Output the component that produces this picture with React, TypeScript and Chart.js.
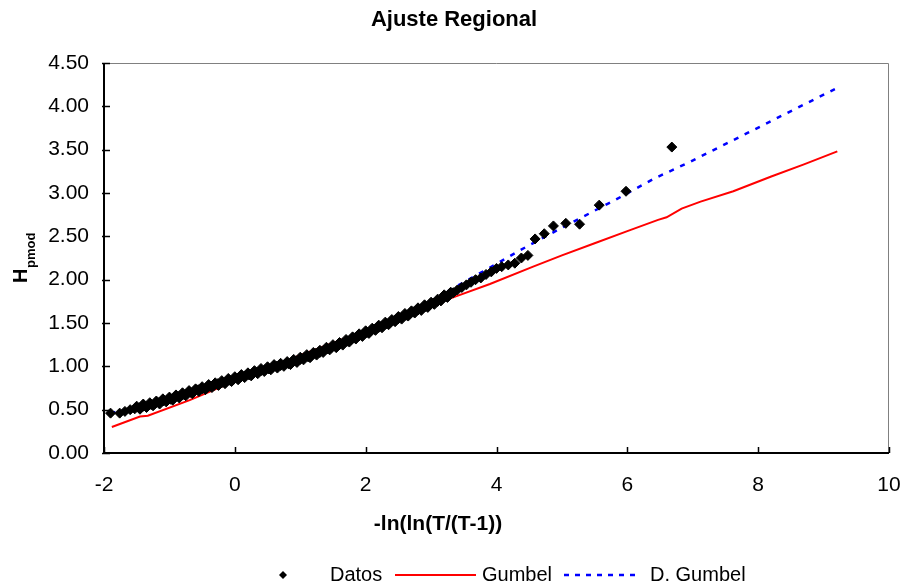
import React, { useEffect, useRef } from "react";
import { Chart, registerables } from "chart.js";

Chart.register(...registerables);

const FONT = "'Liberation Sans', Arial, Helvetica, sans-serif";

const chartTitle = "Ajuste Regional";
const xAxisTitle = "-ln(ln(T/(T-1))";
const yAxisTitleMain = "H";
const yAxisTitleSub = "pmod";
const seriesNames = ["Datos", "Gumbel", "D. Gumbel"];

const xDatos = [
  -1.9, -1.76, -1.68, -1.6, -1.53, -1.46, -1.4, -1.34, -1.28, -1.22, -1.16, -1.1, -1.04, -0.98, -0.92,
  -0.86, -0.8, -0.74, -0.68, -0.62, -0.56, -0.5, -0.44, -0.38, -0.32, -0.26, -0.2, -0.14, -0.08, -0.02,
  0.04, 0.1, 0.16, 0.22, 0.28, 0.34, 0.4, 0.46, 0.52, 0.58, 0.64, 0.7, 0.76, 0.82, 0.88, 0.94,
  1.0, 1.06, 1.12, 1.18, 1.24, 1.3, 1.36, 1.42, 1.48, 1.54, 1.6, 1.66, 1.72, 1.78, 1.84, 1.9, 1.96,
  2.02, 2.08, 2.14, 2.2, 2.26, 2.32, 2.38, 2.44, 2.5, 2.56, 2.62, 2.68, 2.74, 2.8, 2.86, 2.92, 2.98,
  3.04, 3.1, 3.16, 3.22, 3.28, 3.34, 3.4, 3.47, 3.54, 3.61, 3.68, 3.76, 3.84, 3.92, 4.0, 4.08, 4.18,
  4.28, 4.38, 4.48, 4.59, 4.73, 4.87, 5.06, 5.27, 5.57, 5.98, 6.68,
  -1.5, -1.45, -1.4, -1.35, -1.3, -1.25, -1.2, -1.15, -1.1, -1.05, -1.0, -0.95, -0.9, -0.85, -0.8,
  -0.75, -0.7, -0.65, -0.6, -0.55, -0.5, -0.45, -0.4, -0.35, -0.3, -0.25, -0.2, -0.15, -0.1, -0.05,
  0.0, 0.05, 0.1, 0.15, 0.2, 0.25, 0.3, 0.35, 0.4, 0.45, 0.5, 0.55, 0.6, 0.65, 0.7, 0.75, 0.8, 0.85,
  0.9, 0.95, 1.0, 1.05, 1.1, 1.15, 1.2, 1.25, 1.3, 1.35, 1.4, 1.45, 1.5, 1.55, 1.6, 1.65, 1.7, 1.75,
  1.8, 1.85, 1.9, 1.95, 2.0, 2.05, 2.1, 2.15, 2.2, 2.25, 2.3, 2.35, 2.4, 2.45, 2.5, 2.55, 2.6, 2.65,
  2.7, 2.75, 2.8, 2.85, 2.9, 2.95, 3.0, 3.05, 3.1, 3.15, 3.2, 3.25, 3.3,
];
const yDatos = [
  0.46, 0.46, 0.48, 0.5, 0.51, 0.52, 0.54, 0.54, 0.56, 0.57, 0.58, 0.6, 0.61, 0.62, 0.64,
  0.65, 0.67, 0.68, 0.7, 0.71, 0.73, 0.74, 0.75, 0.77, 0.78, 0.8, 0.81, 0.82, 0.84, 0.85,
  0.86, 0.88, 0.89, 0.9, 0.92, 0.93, 0.95, 0.96, 0.97, 0.99, 1.0, 1.01, 1.02, 1.03, 1.05, 1.06,
  1.08, 1.1, 1.11, 1.13, 1.15, 1.16, 1.18, 1.2, 1.22, 1.23, 1.25, 1.27, 1.29, 1.31, 1.33, 1.35, 1.37,
  1.39, 1.41, 1.43, 1.45, 1.47, 1.49, 1.51, 1.53, 1.55, 1.57, 1.59, 1.61, 1.63, 1.65, 1.67, 1.69, 1.71,
  1.73, 1.75, 1.78, 1.81, 1.83, 1.85, 1.88, 1.91, 1.94, 1.97, 2.0, 2.02, 2.06, 2.09, 2.13, 2.15, 2.17,
  2.19, 2.25, 2.28, 2.47, 2.53, 2.62, 2.65, 2.64, 2.86, 3.02, 3.53,
  0.54, 0.505, 0.565, 0.525, 0.58, 0.545, 0.6, 0.565, 0.625, 0.59, 0.645, 0.61, 0.67, 0.635, 0.695,
  0.66, 0.72, 0.685, 0.74, 0.71, 0.765, 0.73, 0.79, 0.755, 0.81, 0.78, 0.835, 0.8, 0.86, 0.825,
  0.88, 0.845, 0.905, 0.87, 0.925, 0.89, 0.95, 0.915, 0.975, 0.94, 0.995, 0.96, 1.02, 0.98, 1.035, 1.0, 1.055, 1.02,
  1.08, 1.045, 1.105, 1.075, 1.135, 1.1, 1.16, 1.13, 1.185, 1.16, 1.22, 1.19, 1.25, 1.215, 1.275, 1.245, 1.31, 1.28,
  1.34, 1.315, 1.375, 1.345, 1.41, 1.38, 1.44, 1.415, 1.475, 1.445, 1.51, 1.48, 1.54, 1.515, 1.575, 1.545, 1.61, 1.58,
  1.64, 1.615, 1.675, 1.645, 1.71, 1.68, 1.74, 1.715, 1.775, 1.755, 1.825, 1.795, 1.855,
];

const xGumbel = [
  -1.88, -1.45, -1.33, -0.69, 0.0, 0.5, 1.0, 1.5, 2.0, 2.5, 3.0, 3.39, 3.9, 4.56, 5.0, 5.5, 6.0,
  6.47, 6.6, 6.83, 7.12, 7.62, 8.2, 8.7, 9.21,
];
const yGumbel = [
  0.3, 0.42, 0.43, 0.61, 0.83, 0.98, 1.13, 1.27, 1.41, 1.56, 1.7, 1.81, 1.95, 2.15, 2.28, 2.42, 2.56,
  2.69, 2.72, 2.82, 2.9, 3.02, 3.19, 3.33, 3.48,
];

const xDGumbel = [-1.9, -1.0, 0.0, 1.0, 2.0, 2.5, 3.0, 3.24, 3.9, 4.36, 5.0, 5.79, 6.42, 6.96, 7.83, 9.2];
const yDGumbel = [0.46, 0.62, 0.85, 1.09, 1.39, 1.55, 1.73, 1.86, 2.14, 2.34, 2.6, 2.91, 3.17, 3.36, 3.69, 4.21];

const xTickValues = [-2, 0, 2, 4, 6, 8, 10];
const yTickValues = [0, 0.5, 1, 1.5, 2, 2.5, 3, 3.5, 4, 4.5];

const toPoints = (xs: number[], ys: number[]) => xs.map((x, i) => ({ x, y: ys[i] }));

const decoPlugin = {
  id: "deco",
  afterDraw(chart: any) {
    const { ctx, chartArea: a, scales } = chart;
    ctx.save();
    ctx.strokeStyle = "#808080";
    ctx.lineWidth = 1;
    ctx.beginPath();
    ctx.moveTo(a.left, a.top + 0.5);
    ctx.lineTo(a.right - 0.5, a.top + 0.5);
    ctx.lineTo(a.right - 0.5, a.bottom);
    ctx.stroke();
    ctx.strokeStyle = "#000";
    ctx.lineWidth = 2;
    ctx.beginPath();
    ctx.moveTo(a.left, a.top);
    ctx.lineTo(a.left, a.bottom);
    ctx.lineTo(a.right, a.bottom);
    ctx.stroke();
    ctx.lineWidth = 1.5;
    ctx.beginPath();
    yTickValues.forEach((v) => {
      const py = Math.round(scales.y.getPixelForValue(v)) + 0.5;
      ctx.moveTo(a.left - 2, py);
      ctx.lineTo(a.left + 6, py);
    });
    xTickValues.forEach((v) => {
      const px = Math.round(scales.x.getPixelForValue(v)) + 0.5;
      ctx.moveTo(px, a.bottom);
      ctx.lineTo(px, a.bottom - 6);
    });
    ctx.stroke();

    ctx.fillStyle = "#000";
    ctx.textAlign = "center";
    ctx.textBaseline = "alphabetic";
    ctx.font = `bold 22px ${FONT}`;
    ctx.fillText(chartTitle, 454, 26);

    ctx.font = `bold 21px ${FONT}`;
    ctx.fillText(xAxisTitle, 438, 530);

    ctx.save();
    ctx.translate(27, 258.5);
    ctx.rotate(-Math.PI / 2);
    ctx.textAlign = "left";
    ctx.font = `bold 20px ${FONT}`;
    ctx.fillText(yAxisTitleMain, -24.5, 0);
    const hw = ctx.measureText(yAxisTitleMain).width;
    ctx.font = `bold 13px ${FONT}`;
    ctx.fillText(yAxisTitleSub, -24.5 + hw + 0.5, 7.5);
    ctx.restore();

    const ly = 575;
    ctx.textAlign = "left";
    ctx.font = `20px ${FONT}`;
    ctx.fillStyle = "#000";
    ctx.beginPath();
    ctx.moveTo(283 - 4, ly);
    ctx.lineTo(283, ly - 4);
    ctx.lineTo(283 + 4, ly);
    ctx.lineTo(283, ly + 4);
    ctx.closePath();
    ctx.fill();
    ctx.fillText(seriesNames[0], 330, 581);

    ctx.strokeStyle = "#ff0000";
    ctx.lineWidth = 2;
    ctx.beginPath();
    ctx.moveTo(395, ly);
    ctx.lineTo(476, ly);
    ctx.stroke();
    ctx.fillText(seriesNames[1], 482, 581);

    ctx.strokeStyle = "#0000ff";
    ctx.lineWidth = 2.5;
    ctx.setLineDash([5, 6]);
    ctx.beginPath();
    ctx.moveTo(564, ly);
    ctx.lineTo(640, ly);
    ctx.stroke();
    ctx.setLineDash([]);
    ctx.fillText(seriesNames[2], 650, 581);

    ctx.restore();
  },
};

export default function App() {
  const ref = useRef<HTMLCanvasElement | null>(null);

  useEffect(() => {
    document.body.style.margin = "0";
    const canvas = ref.current;
    if (!canvas) return;
    const chart = new Chart(canvas, {
      type: "scatter",
      data: {
        datasets: [
          {
            label: seriesNames[0],
            data: toPoints(xDatos, yDatos),
            showLine: false,
            pointStyle: "rectRot",
            pointRadius: 5,
            pointHoverRadius: 5,
            backgroundColor: "#000",
            borderColor: "#000",
            borderWidth: 1,
          },
          {
            label: seriesNames[1],
            data: toPoints(xGumbel, yGumbel),
            showLine: true,
            borderColor: "#ff0000",
            backgroundColor: "#ff0000",
            borderWidth: 2,
            pointRadius: 0,
            tension: 0,
          },
          {
            label: seriesNames[2],
            data: toPoints(xDGumbel, yDGumbel),
            showLine: true,
            borderColor: "#0000ff",
            backgroundColor: "#0000ff",
            borderWidth: 2.5,
            borderDash: [5, 7],
            pointRadius: 0,
            tension: 0,
          },
        ],
      },
      options: {
        responsive: false,
        animation: false,
        devicePixelRatio: 1,
        layout: { padding: { top: 63, right: 17, left: 0, bottom: 0 } },
        plugins: {
          legend: { display: false },
          title: { display: false },
          tooltip: { enabled: false },
        },
        scales: {
          x: {
            type: "linear",
            min: -2,
            max: 10,
            afterFit: (s: any) => {
              s.height = 133;
              s.paddingLeft = 0;
              s.paddingRight = 0;
            },
            afterBuildTicks: (s: any) => {
              s.ticks = xTickValues.map((v) => ({ value: v }));
            },
            grid: { display: false, drawTicks: false },
            border: { display: false },
            ticks: {
              color: "#000",
              font: { family: FONT, size: 21 },
              padding: 20,
              maxRotation: 0,
              callback: (v: any) => String(v),
            },
          },
          y: {
            type: "linear",
            min: 0,
            max: 4.5,
            afterFit: (s: any) => {
              s.width = 104;
              s.paddingTop = 0;
              s.paddingBottom = 0;
            },
            afterBuildTicks: (s: any) => {
              s.ticks = yTickValues.map((v) => ({ value: v }));
            },
            grid: { display: false, drawTicks: false },
            border: { display: false },
            ticks: {
              color: "#000",
              font: { family: FONT, size: 21 },
              padding: 15,
              callback: (v: any) => Number(v).toFixed(2),
            },
          },
        },
      },
      plugins: [decoPlugin],
    });
    return () => chart.destroy();
  }, []);

  return (
    <canvas
      ref={ref}
      width={906}
      height={586}
      style={{ display: "block", width: 906, height: 586 }}
    />
  );
}
